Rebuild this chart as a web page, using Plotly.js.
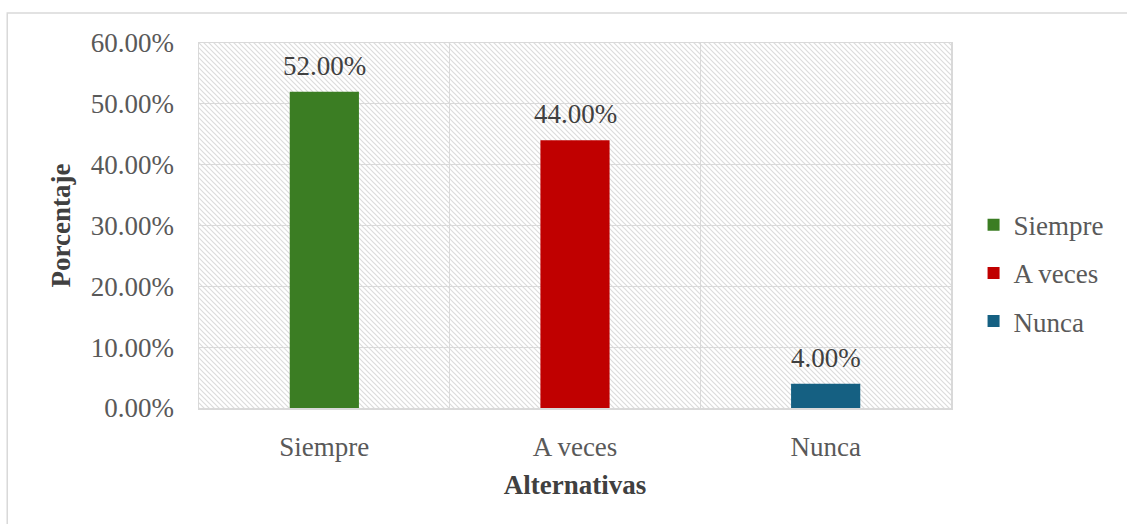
<!DOCTYPE html>
<html>
<head>
<meta charset="utf-8">
<script src="https://cdn.plot.ly/plotly-3.0.1.min.js"></script>
<style>
  html, body { margin: 0; padding: 0; background: #ffffff; }
  #chart { width: 1127px; height: 524px; }
</style>
</head>
<body>
<div id="chart"></div>
<script>
// ---- Data ----
const categories = ["Siempre", "A veces", "Nunca"];
const values = [0.52, 0.44, 0.04];
const seriesColors = ["#3B7D23", "#C00000", "#156082"];
const yTickValues = [0, 0.1, 0.2, 0.3, 0.4, 0.5, 0.6];

const FONT = "Liberation Serif, Times New Roman, serif";

const traces = categories.map(function (cat, i) {
  return {
    type: "bar",
    name: cat,
    legendgroup: "g" + i,
    x: [cat],
    y: [values[i]],
    width: 0.276,
    marker: { color: seriesColors[i] },
    hoverinfo: "skip"
  };
});

// Data labels above the bars, positioned through the axes
const labelAnnotations = categories.map(function (cat, i) {
  return {
    x: cat, y: values[i],
    xref: "x", yref: "y",
    text: (values[i] * 100).toFixed(2) + "%",
    showarrow: false,
    xanchor: "center", yanchor: "bottom",
    yshift: 9,
    font: { family: FONT, size: 27, color: "#404040" }
  };
});

// Hatched plot-area background as an SVG image (decoration only)
const hatchSvg =
  '<svg xmlns="http://www.w3.org/2000/svg" width="752" height="365" preserveAspectRatio="none">' +
  '<defs><pattern id="p" patternUnits="userSpaceOnUse" width="5" height="5">' +
  '<path d="M-1,-1 L6,6 M-1,4 L1,6 M4,-1 L6,1" stroke="#dcdcdc" stroke-width="1.2"/>' +
  '</pattern></defs>' +
  '<rect width="752" height="365" fill="#ffffff"/>' +
  '<rect width="752" height="365" fill="url(#p)"/></svg>';
const hatchUri = "data:image/svg+xml;charset=utf-8," + encodeURIComponent(hatchSvg);

const layout = {
  width: 1127,
  height: 524,
  margin: { l: 199, r: 176, t: 43, b: 116 },
  paper_bgcolor: "#ffffff",
  plot_bgcolor: "#ffffff",
  barmode: "overlay",
  font: { family: FONT, size: 27, color: "#595959" },
  showlegend: true,
  legend: {
    x: 1.03, xanchor: "left",
    y: 0.369, yanchor: "middle",
    traceorder: "grouped",
    tracegroupgap: 10,
    font: { family: FONT, size: 27, color: "#595959" },
    bgcolor: "rgba(0,0,0,0)"
  },
  xaxis: {
    type: "category",
    categoryorder: "array",
    categoryarray: categories,
    tickson: "boundaries",
    showgrid: true,
    gridcolor: "#d9d9d9",
    gridwidth: 1,
    showline: true,
    linecolor: "#d9d9d9",
    linewidth: 1.5,
    mirror: true,
    ticks: "",
    ticklabelstandoff: 14,
    tickfont: { family: FONT, size: 27, color: "#595959" },
    title: {
      text: "<b>Alternativas</b>",
      font: { family: FONT, size: 27, color: "#404040" },
      standoff: 14
    },
    automargin: false,
    fixedrange: true
  },
  yaxis: {
    range: [0, 0.6],
    tickvals: yTickValues,
    tickformat: ".2%",
    showgrid: true,
    gridcolor: "#d9d9d9",
    gridwidth: 1,
    zeroline: false,
    showline: true,
    linecolor: "#d9d9d9",
    linewidth: 1.5,
    mirror: true,
    ticks: "",
    ticklabelstandoff: 18,
    tickfont: { family: FONT, size: 27, color: "#595959" },
    title: {
      text: "<b>Porcentaje</b>",
      font: { family: FONT, size: 27, color: "#404040" },
      standoff: 12
    },
    automargin: false,
    fixedrange: true
  },
  annotations: labelAnnotations,
  images: [{
    source: hatchUri,
    xref: "paper", yref: "paper",
    x: 0, y: 1, sizex: 1, sizey: 1,
    xanchor: "left", yanchor: "top",
    sizing: "stretch",
    layer: "below"
  }],
  shapes: [{
    type: "rect",
    xref: "paper", yref: "paper",
    x0: -0.255, x1: 1.3,
    y0: -0.4, y1: 1.082,
    line: { color: "#d9d9d9", width: 1.5 },
    fillcolor: "rgba(0,0,0,0)",
    layer: "below"
  }]
};

Plotly.newPlot("chart", traces, layout, { displayModeBar: false, staticPlot: true });
</script>
</body>
</html>
